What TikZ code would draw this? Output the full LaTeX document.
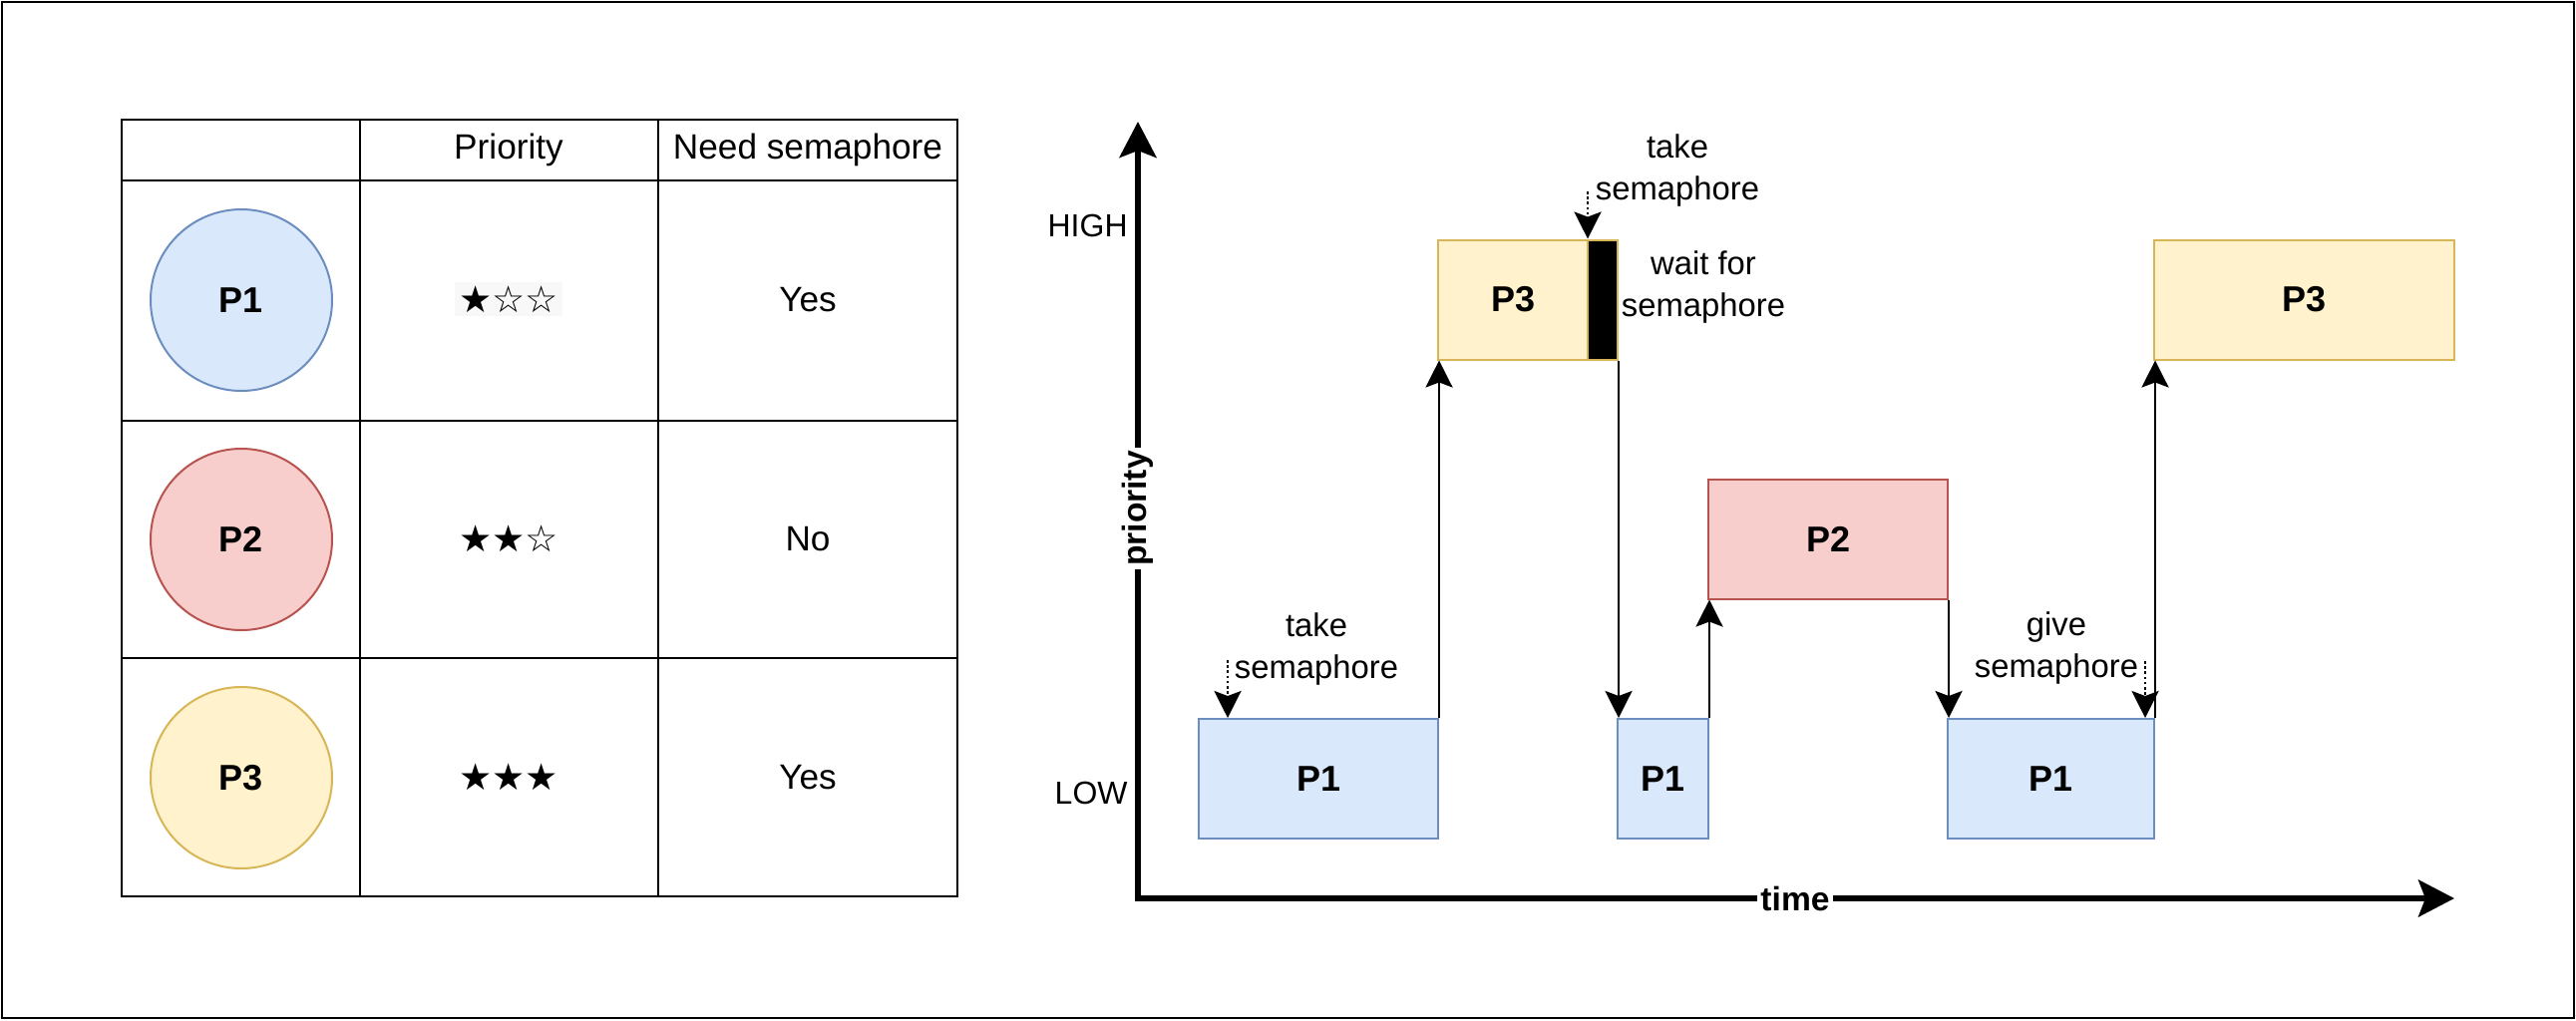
\documentclass[tikz,border=0pt]{standalone}
\usepackage{fontspec}
\setmainfont{Liberation Sans}
\newfontfamily\starfont{DejaVu Sans}
\usetikzlibrary{arrows.meta}

\definecolor{blueFill}{HTML}{DAE8FC}
\definecolor{blueLine}{HTML}{6C8EBF}
\definecolor{redFill}{HTML}{F8CECC}
\definecolor{redLine}{HTML}{B85450}
\definecolor{yellowFill}{HTML}{FFF2CC}
\definecolor{yellowLine}{HTML}{D6B656}
\definecolor{starBg}{HTML}{F8F8F8}

\begin{document}
\begin{tikzpicture}[x=0.5pt, y=-0.5pt,
            every node/.style={font=\fontsize{16.4}{21}\selectfont, inner sep=0pt},
            tab text/.style={font=\fontsize{17.6}{21}\selectfont},
            tab line/.style={line width=1.4pt},
            proc node/.style={circle, draw, line width=1pt, minimum size=91pt, font=\fontsize{18}{21}\selectfont\bfseries},
            box node/.style={rectangle, draw, line width=1pt, minimum height=60pt, font=\fontsize{18}{21}\selectfont\bfseries},
            star text/.style={font=\starfont\fontsize{18.5}{21}\selectfont},
            axis label/.style={fill=white, inner sep=1.5pt, font=\fontsize{16.8}{21}\selectfont\bfseries},
            axis/.style={line width=2.9pt, {Stealth[length=18pt, width=18.5pt, inset=3.5pt]}-{Stealth[length=18pt, width=18.5pt, inset=3.5pt]}},
            conn/.style={line width=1.35pt, -{Stealth[length=13.5pt, width=13.5pt, inset=2.5pt]}},
            dot arr/.style={line width=1.3pt, dash pattern=on 1.3pt off 1.3pt, -{Stealth[length=13.5pt, width=13.5pt, inset=2.5pt]}},
            ]
            \useasboundingbox (0,0) rectangle (2583,1023);
            \draw[line width=1pt] (2,2) rectangle (2581,1021);

            % table
            \draw[tab line] (122,120) rectangle (960,899);
            \draw[tab line] (122,181) -- (960,181);
            \draw[tab line] (122,422) -- (960,422);
            \draw[tab line] (122,660) -- (960,660);
            \draw[tab line] (361,120) -- (361,899);
            \draw[tab line] (660,120) -- (660,899);

            \node[tab text] (hprio) at (510,150) {Priority};
            \node[tab text] (hsem) at (810,150) {Need semaphore};

            \node[proc node, fill=blueFill, draw=blueLine] (c1) at (242,301) {P1};
            \node[proc node, fill=redFill, draw=redLine] (c2) at (242,541) {P2};
            \node[proc node, fill=yellowFill, draw=yellowLine] (c3) at (242,780) {P3};

            \node[star text, fill=starBg, inner sep=2pt] (s1) at (510,300) {★☆☆};
            \node[star text] (s2) at (510,540) {★★☆};
            \node[star text] (s3) at (510,779) {★★★};

            \node[tab text] (y1) at (810,301) {Yes};
            \node[tab text] (y2) at (810,541) {No};
            \node[tab text] (y3) at (810,780) {Yes};

            % chart
            \coordinate (o) at (1141,901);
            \coordinate (ytop) at (1141,122);
            \coordinate (xend) at (2461,901);
            \draw[axis] (ytop) -- (o) -- (xend);
            \node[axis label, rotate=90] (prio) at (1141,510) {priority};
            \node[axis label] (time) at (1800,901) {time};
            \node[anchor=east, font=\fontsize{16}{21}\selectfont] (high) at (1131,226) {HIGH};
            \node[anchor=east, font=\fontsize{16}{21}\selectfont] (low) at (1131,795) {LOW};

            \node[box node, fill=blueFill, draw=blueLine, minimum width=120pt] (p1a) at (1322,781) {P1};
            \node[box node, fill=yellowFill, draw=yellowLine, minimum width=75pt] (p3a) at (1517,300.5) {P3};
            \node[box node, fill=black, draw=yellowLine, minimum width=15pt] (blk) at (1607,300.5) {};
            \node[box node, fill=blueFill, draw=blueLine, minimum width=45.5pt] (p1b) at (1667.5,781) {P1};
            \node[box node, fill=redFill, draw=redLine, minimum width=120pt] (p2) at (1833,540.5) {P2};
            \node[box node, fill=blueFill, draw=blueLine, minimum width=103.5pt] (p1c) at (2056.5,781) {P1};
            \node[box node, fill=yellowFill, draw=yellowLine, minimum width=150.5pt] (p3b) at (2310.5,300.5) {P3};

            \draw[conn] (p1a.north east) -- (p1a.north east |- p3a.south);
            \draw[conn] (blk.south east) -- (blk.south east |- p1b.north);
            \draw[conn] (p1b.north east) -- (p1b.north east |- p2.south);
            \draw[conn] (p2.south east) -- (p2.south east |- p1c.north);
            \draw[conn] (p1c.north east) -- (p1c.north east |- p3b.south);

            \node[align=center] (lt1) at (1320,651) {take\\semaphore};
            \node[align=center] (lt2) at (1682,171) {take\\semaphore};
            \node[align=center] (lw) at (1708,288) {wait for\\semaphore};
            \node[align=center] (lg) at (2062,650) {give\\semaphore};

            \coordinate (t1) at (1231,662);
            \coordinate (t2) at (1592,192);
            \coordinate (t3) at (2151,663);
            \draw[dot arr] (t1) -- (t1 |- p1a.north);
            \draw[dot arr] (t2) -- (t2 |- p3a.north);
            \draw[dot arr] (t3) -- (t3 |- p1c.north);
        \end{tikzpicture}
\end{document}
